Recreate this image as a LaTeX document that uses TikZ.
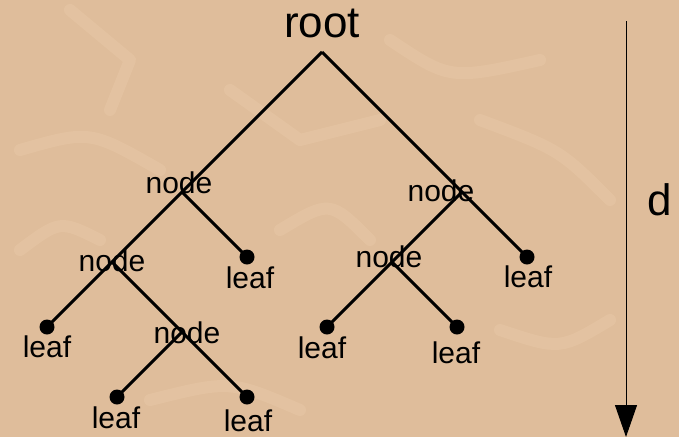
\documentclass[tikz,border=0pt]{standalone}
\usepackage{fontspec}
\setmainfont{Liberation Sans}
\usetikzlibrary{arrows.meta}
\definecolor{parchment}{HTML}{DFBD9B}
\definecolor{parchlight}{HTML}{EFD0AF}
\begin{document}
\begin{tikzpicture}[x=1pt,y=-1pt,
  branch/.style={line width=3pt,black},
  leafdot/.style={circle,fill=black,inner sep=0pt,minimum size=15pt},
  small/.style={font=\fontsize{30}{34}\selectfont,inner sep=0pt,anchor=base},
  big/.style={font=\fontsize{44}{50}\selectfont,inner sep=0pt,anchor=base},
  streak/.style={parchlight,opacity=0.3,line width=12pt,line cap=round,line join=round}]
% background
\fill[parchment] (0,0) rectangle (679,437);
\useasboundingbox (0,0) rectangle (679,437);
% faint lighter streaks of the paper texture
\draw[streak] (70,10) -- (130,60) -- (110,110);
\draw[streak] (20,150) .. controls (90,130) .. (160,170);
\draw[streak] (230,90) -- (300,140) -- (380,120);
\draw[streak] (390,40) .. controls (450,80) .. (540,60);
\draw[streak] (480,120) .. controls (560,150) .. (610,200);
\draw[streak] (20,250) .. controls (60,220) .. (100,240);
\draw[streak] (280,230) .. controls (330,200) .. (370,240);
\draw[streak] (500,330) .. controls (560,350) .. (610,320);
\draw[streak] (150,400) .. controls (230,380) .. (300,410);

% junction points
\coordinate (root) at (322,52);
\coordinate (nA) at (182,192);
\coordinate (nB) at (112,262);
\coordinate (nC) at (182,332);
\coordinate (nD) at (462,192);
\coordinate (nE) at (392,262);

% leaves
\node[leafdot] (l1) at (47,327) {};
\node[leafdot] (l2) at (247,257) {};
\node[leafdot] (l3) at (117,397) {};
\node[leafdot] (l4) at (247,397) {};
\node[leafdot] (l5) at (327,327) {};
\node[leafdot] (l6) at (457,327) {};
\node[leafdot] (l7) at (527,257) {};

% branches
\draw[branch] (root) -- (nA) -- (nB) -- (l1.center);
\draw[branch] (nA) -- (l2.center);
\draw[branch] (nB) -- (nC) -- (l4.center);
\draw[branch] (nC) -- (l3.center);
\draw[branch] (root) -- (nD) -- (l7.center);
\draw[branch] (nD) -- (nE) -- (l5.center);
\draw[branch] (nE) -- (l6.center);

% labels
\node[big] (troot) at (322,37) {root};
\node[small] (tA) at (179,193) {node};
\node[small] (tB) at (112,271) {node};
\node[small] (tC) at (187,343) {node};
\node[small] (tD) at (441,201) {node};
\node[small] (tE) at (389,267) {node};
\node[small] (t1) at (47,357) {leaf};
\node[small] (t2) at (250,288) {leaf};
\node[small] (t3) at (116,428) {leaf};
\node[small] (t4) at (248,431) {leaf};
\node[small] (t5) at (322,358) {leaf};
\node[small] (t6) at (456,363) {leaf};
\node[small] (t7) at (528,287) {leaf};

% depth axis
\coordinate (dtop) at (626,21);
\coordinate (dbot) at (626,437);
\draw[line width=1pt,-{Triangle[width=22pt,length=32pt]}] (dtop) -- (dbot);
\node[big] (tdepth) at (660,215) {d};
\end{tikzpicture}
\end{document}
